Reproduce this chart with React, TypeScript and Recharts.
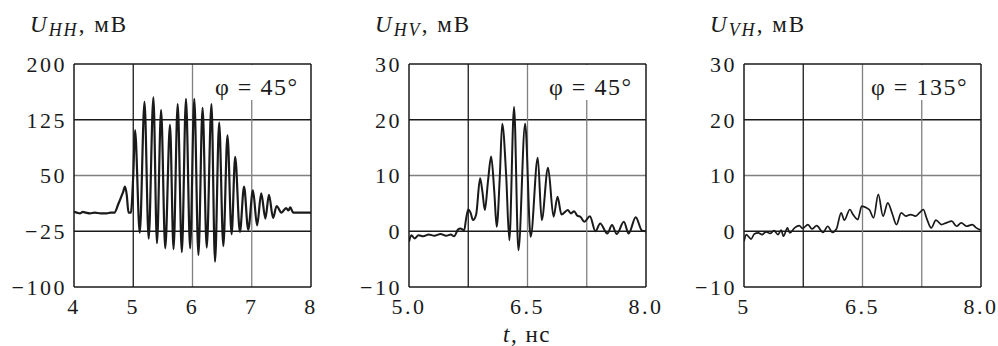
import { LineChart, Line, XAxis, YAxis, ReferenceLine } from "recharts";

// U_HH, phi = 45°
const hhTime = [
  4.0, 4.05, 4.1, 4.15, 4.2, 4.27, 4.35, 4.45, 4.55, 4.62, 4.68, 4.75, 4.8, 4.83, 4.86, 4.89, 4.92, 4.96,
  5.0, 5.03, 5.11, 5.19, 5.26, 5.34, 5.4, 5.47, 5.54, 5.62, 5.68, 5.75, 5.82, 5.89, 5.96, 6.03, 6.1,
  6.17, 6.24, 6.32, 6.38, 6.45, 6.52, 6.59, 6.66, 6.72, 6.8, 6.87, 6.94, 7.02, 7.09, 7.16, 7.23, 7.29,
  7.36, 7.42, 7.5, 7.58, 7.62, 7.65, 7.7, 7.8, 7.9, 8.0,
];
const hhValue = [
  1, 0, -1, 1, 0, -1, 0, -1, -1, 0, 0, 12, 22, 28, 35, 24, 0, 0,
  50, 111, -27, 149, -35, 155, -41, 138, -48, 118, -49, 146, -53, 153, -48, 153, -57,
  141, -47, 146, -66, 121, -45, 104, -29, 75, -26, 35, -23, 30, -17, 26, -8, 24,
  -7, 9, 0, 6, 3, 7, 0, 0, 0, 0,
];

// U_HV, phi = 45°
const hvTime = [
  5.0, 5.03, 5.07, 5.12, 5.18, 5.25, 5.32, 5.4, 5.47, 5.53, 5.57, 5.62, 5.65, 5.7, 5.72, 5.75, 5.78,
  5.81, 5.85, 5.9, 5.93, 5.96, 6.0, 6.04, 6.08, 6.11, 6.15, 6.18, 6.23, 6.27, 6.33, 6.385, 6.47, 6.54,
  6.63, 6.68, 6.76, 6.83, 6.88, 6.93, 7.01, 7.05, 7.09, 7.13, 7.17, 7.22, 7.29, 7.36, 7.42, 7.51, 7.57,
  7.63, 7.72, 7.78, 7.87, 7.95, 8.0,
];
const hvValue = [
  -1.9, -0.7, -1.3, -0.7, -0.9, -0.6, -0.8, -0.5, -0.8, -0.6, -0.9, 0.3, 0.5, 0.2, 2, 3.9, 3.3,
  2.0, 3, 9.5, 7, 3.8, 9, 13.4, 7, 0.8, 10, 19.3, 10, -1.6, 22.3, -3.4, 19.3, -1,
  13.2, 2, 11.4, 2.6, 6.2, 3.0, 3.8, 3.2, 3.6, 2.8, 2.6, 1.7, 2.7, 0, 1.4, -0.4, 1.1,
  -0.5, 1.7, -0.4, 2.5, 0.1, 0,
];

// U_VH, phi = 135°
const vhTime = [
  5.0, 5.03, 5.06, 5.09, 5.13, 5.18, 5.23, 5.28, 5.33, 5.38, 5.43, 5.47, 5.5, 5.55, 5.58, 5.64, 5.7,
  5.74, 5.81, 5.86, 5.92, 6.0, 6.06, 6.12, 6.17, 6.23, 6.27, 6.34, 6.38, 6.44, 6.49, 6.55, 6.59, 6.64,
  6.7, 6.76, 6.82, 6.88, 6.93, 6.99, 7.05, 7.11, 7.17, 7.22, 7.27, 7.31, 7.37, 7.43, 7.5, 7.56, 7.63,
  7.69, 7.75, 7.82, 7.89, 7.94, 8.0,
];
const vhValue = [
  -1.8, -0.6, -1.0, -1.4, -0.5, -0.3, -0.6, -0.1, -0.4, 0.1, -0.6, 0.2, -0.9, 0.6, -0.3, 0.6, 1.0,
  0.5, 1.2, 0.4, 1.0, -0.2, 0.9, -0.2, 0.4, 3.3, 2.0, 3.9, 3.0, 2.1, 4.5, 4.2, 3.8, 2.4,
  6.6, 2.7, 5.1, 3.0, 1.2, 3.3, 2.7, 3.0, 2.7, 3.3, 3.9, 2.4, 0.6, 2.0, 1.2, 1.5, 1.8,
  0.9, 1.5, 0.9, 1.2, 0.6, 0.2,
];

const hhXTicks = [4, 5, 6, 7, 8];
const hhXLabels = ["4", "5", "6", "7", "8"];
const hhYTicks = [-100, -25, 50, 125, 200];
const hhXGrid = [5, 6, 7];
const hhYGrid = [-25, 50, 125];

const hvXTicks = [5, 6.5, 8];
const hvXLabels = ["5.0", "6.5", "8.0"];
const vhXLabels = ["5", "6.5", "8.0"];
const smallYTicks = [-10, 0, 10, 20, 30];
const smallXGrid = [5.75, 6.5, 7.25];
const smallYGrid = [0, 10, 20];

const ink = "#1a1a1a";
const gray = "#808080";
const font = "Liberation Serif";

function Panel(props: any) {
  const { left, width, margin, time, value, xDomain, yDomain, xTicks, xLabels, yTicks, xGrid, yGrid, lineWidth } = props;
  const data = time.map((t: number, i: number) => ({ t, v: value[i] }));
  const tickStyle = { fill: ink, fontSize: 22, fontFamily: font, letterSpacing: 2.5 };
  return (
    <div style={{ position: "absolute", left, top: 0 }}>
      <LineChart width={width} height={346} data={data} margin={margin}>
        <XAxis
          dataKey="t"
          type="number"
          domain={xDomain}
          ticks={xTicks}
          interval={0}
          tickFormatter={(v: number) => xLabels[xTicks.indexOf(v)]}
          tickSize={0}
          tickMargin={11}
          height={30}
          tickLine={false}
          axisLine={{ stroke: ink, strokeWidth: 1.5 }}
          tick={tickStyle}
          allowDataOverflow
        />
        <YAxis
          type="number"
          domain={yDomain}
          ticks={yTicks}
          interval={0}
          width={60}
          tickSize={0}
          tickMargin={7}
          tickLine={false}
          tickFormatter={(v: number) => String(v).replace("-", "\u2212")}
          axisLine={{ stroke: ink, strokeWidth: 1.5 }}
          tick={tickStyle}
          allowDataOverflow
        />
        {yGrid.map((y: number, i: number) => (
          <ReferenceLine key={"gy" + y} y={y} stroke={i === 1 ? gray : ink} strokeWidth={1.3} />
        ))}
        {xGrid.map((x: number, i: number) => (
          <ReferenceLine key={"gx" + x} x={x} stroke={i === 0 ? ink : gray} strokeWidth={1.3} />
        ))}
        <ReferenceLine x={xDomain[1]} stroke={ink} strokeWidth={1.5} />
        <ReferenceLine y={yDomain[1]} stroke={ink} strokeWidth={1.5} />
        <Line
          type="monotone"
          dataKey="v"
          stroke={ink}
          strokeWidth={lineWidth}
          dot={false}
          isAnimationActive={false}
        />
      </LineChart>
    </div>
  );
}

function Title({ x, sub }: { x: number; sub: string }) {
  return (
    <text x={x} y={32} fontSize={23} fill={ink} fontFamily={font} letterSpacing={2}>
      <tspan fontStyle="italic">U</tspan>
      <tspan fontStyle="italic" fontSize={18} dy={4}>{sub}</tspan>
      <tspan dy={-4}>, мВ</tspan>
    </text>
  );
}

function Phi({ x, boxX, boxW, label }: { x: number; boxX: number; boxW: number; label: string }) {
  return (
    <g>
      <rect x={boxX} y={65} width={boxW} height={35} fill="#fff" />
      <text x={x} y={95} fontSize={24} fill={ink} fontFamily={font} letterSpacing={1.5}>
        {label}
      </text>
    </g>
  );
}

export default function App() {
  return (
    <div style={{ position: "absolute", left: 0, top: 0, width: 998, height: 346, background: "#fff" }}>
      <Panel
        left={0}
        width={330}
        margin={{ top: 64, right: 19, left: 14, bottom: 29 }}
        time={hhTime}
        value={hhValue}
        xDomain={[4, 8]}
        yDomain={[-100, 200]}
        xTicks={hhXTicks}
        xLabels={hhXLabels}
        yTicks={hhYTicks}
        xGrid={hhXGrid}
        yGrid={hhYGrid}
        lineWidth={2.2}
      />
      <Panel
        left={330}
        width={340}
        margin={{ top: 64, right: 24, left: 19, bottom: 29 }}
        time={hvTime}
        value={hvValue}
        xDomain={[5, 8]}
        yDomain={[-10, 30]}
        xTicks={hvXTicks}
        xLabels={hvXLabels}
        yTicks={smallYTicks}
        xGrid={smallXGrid}
        yGrid={smallYGrid}
        lineWidth={2}
      />
      <Panel
        left={660}
        width={338}
        margin={{ top: 64, right: 17, left: 24, bottom: 29 }}
        time={vhTime}
        value={vhValue}
        xDomain={[5, 8]}
        yDomain={[-10, 30]}
        xTicks={hvXTicks}
        xLabels={vhXLabels}
        yTicks={smallYTicks}
        xGrid={smallXGrid}
        yGrid={smallYGrid}
        lineWidth={1.7}
      />
      <svg width={998} height={346} style={{ position: "absolute", left: 0, top: 0, pointerEvents: "none" }}>
        <Title x={30} sub="HH" />
        <Title x={375} sub="HV" />
        <Title x={710} sub="VH" />
        <Phi x={215} boxX={211} boxW={94} label="φ = 45°" />
        <Phi x={549} boxX={545} boxW={96} label="φ = 45°" />
        <Phi x={871} boxX={866} boxW={112} label="φ = 135°" />
        <text x={503} y={342} fontSize={23} fill={ink} fontFamily={font} letterSpacing={1.5}>
          <tspan fontStyle="italic">t</tspan>
          <tspan>, нс</tspan>
        </text>
      </svg>
    </div>
  );
}
